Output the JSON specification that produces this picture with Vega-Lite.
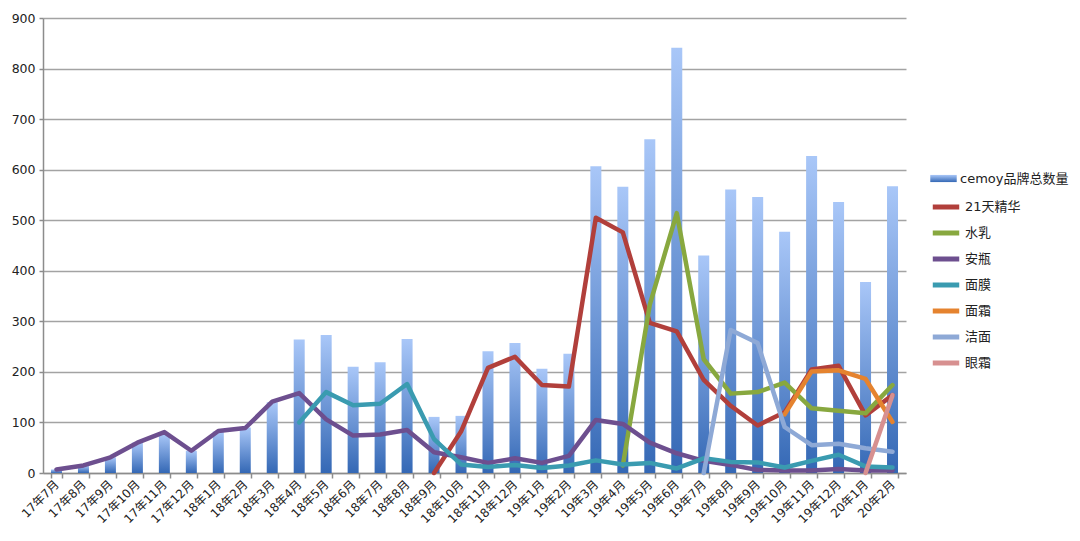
{
  "$schema": "https://vega.github.io/schema/vega-lite/v6.json",
  "width": 863,
  "height": 455,
  "autosize": {"type": "none"},
  "padding": {"left": 43, "top": 18, "right": 174, "bottom": 68},
  "background": "white",
  "config": {
    "view": {"stroke": null},
    "font": "DejaVu Sans",
    "axis": {
      "labelFont": "DejaVu Sans, Noto Sans CJK SC",
      "labelColor": "#222222",
      "domainColor": "#8c8c8c",
      "domainWidth": 1.5,
      "tickColor": "#8c8c8c",
      "tickWidth": 1.5,
      "gridColor": "#a3a3a3",
      "gridWidth": 1.5
    },
    "legend": {
      "labelFont": "DejaVu Sans, Noto Sans CJK SC",
      "labelFontSize": 13,
      "labelColor": "#222222"
    }
  },
  "datasets": {
    "bars": [
      {"month": "17年7月", "total": 7}, {"month": "17年8月", "total": 15}, {"month": "17年9月", "total": 31},
      {"month": "17年10月", "total": 60}, {"month": "17年11月", "total": 77}, {"month": "17年12月", "total": 44},
      {"month": "18年1月", "total": 82}, {"month": "18年2月", "total": 90}, {"month": "18年3月", "total": 140},
      {"month": "18年4月", "total": 264}, {"month": "18年5月", "total": 273}, {"month": "18年6月", "total": 210},
      {"month": "18年7月", "total": 219}, {"month": "18年8月", "total": 265}, {"month": "18年9月", "total": 111},
      {"month": "18年10月", "total": 113}, {"month": "18年11月", "total": 241}, {"month": "18年12月", "total": 257},
      {"month": "19年1月", "total": 206}, {"month": "19年2月", "total": 236}, {"month": "19年3月", "total": 607},
      {"month": "19年4月", "total": 566}, {"month": "19年5月", "total": 660}, {"month": "19年6月", "total": 841},
      {"month": "19年7月", "total": 430}, {"month": "19年8月", "total": 561}, {"month": "19年9月", "total": 546},
      {"month": "19年10月", "total": 477}, {"month": "19年11月", "total": 627}, {"month": "19年12月", "total": 536},
      {"month": "20年1月", "total": 378}, {"month": "20年2月", "total": 567}
    ],
    "lines": [
      {"series": "21天精华", "month": "18年9月", "value": 0},
      {"series": "21天精华", "month": "18年10月", "value": 82},
      {"series": "21天精华", "month": "18年11月", "value": 208},
      {"series": "21天精华", "month": "18年12月", "value": 230},
      {"series": "21天精华", "month": "19年1月", "value": 174},
      {"series": "21天精华", "month": "19年2月", "value": 171},
      {"series": "21天精华", "month": "19年3月", "value": 505},
      {"series": "21天精华", "month": "19年4月", "value": 476},
      {"series": "21天精华", "month": "19年5月", "value": 297},
      {"series": "21天精华", "month": "19年6月", "value": 280},
      {"series": "21天精华", "month": "19年7月", "value": 184},
      {"series": "21天精华", "month": "19年8月", "value": 133},
      {"series": "21天精华", "month": "19年9月", "value": 94},
      {"series": "21天精华", "month": "19年10月", "value": 120},
      {"series": "21天精华", "month": "19年11月", "value": 205},
      {"series": "21天精华", "month": "19年12月", "value": 212},
      {"series": "21天精华", "month": "20年1月", "value": 114},
      {"series": "21天精华", "month": "20年2月", "value": 154},
      {"series": "水乳", "month": "19年4月", "value": 15},
      {"series": "水乳", "month": "19年5月", "value": 333},
      {"series": "水乳", "month": "19年6月", "value": 514},
      {"series": "水乳", "month": "19年7月", "value": 225},
      {"series": "水乳", "month": "19年8月", "value": 157},
      {"series": "水乳", "month": "19年9月", "value": 160},
      {"series": "水乳", "month": "19年10月", "value": 179},
      {"series": "水乳", "month": "19年11月", "value": 128},
      {"series": "水乳", "month": "19年12月", "value": 123},
      {"series": "水乳", "month": "20年1月", "value": 118},
      {"series": "水乳", "month": "20年2月", "value": 174},
      {"series": "安瓶", "month": "17年7月", "value": 7},
      {"series": "安瓶", "month": "17年8月", "value": 15},
      {"series": "安瓶", "month": "17年9月", "value": 31},
      {"series": "安瓶", "month": "17年10月", "value": 60},
      {"series": "安瓶", "month": "17年11月", "value": 81},
      {"series": "安瓶", "month": "17年12月", "value": 44},
      {"series": "安瓶", "month": "18年1月", "value": 83},
      {"series": "安瓶", "month": "18年2月", "value": 89},
      {"series": "安瓶", "month": "18年3月", "value": 141},
      {"series": "安瓶", "month": "18年4月", "value": 158},
      {"series": "安瓶", "month": "18年5月", "value": 106},
      {"series": "安瓶", "month": "18年6月", "value": 74},
      {"series": "安瓶", "month": "18年7月", "value": 76},
      {"series": "安瓶", "month": "18年8月", "value": 85},
      {"series": "安瓶", "month": "18年9月", "value": 41},
      {"series": "安瓶", "month": "18年10月", "value": 31},
      {"series": "安瓶", "month": "18年11月", "value": 20},
      {"series": "安瓶", "month": "18年12月", "value": 29},
      {"series": "安瓶", "month": "19年1月", "value": 20},
      {"series": "安瓶", "month": "19年2月", "value": 34},
      {"series": "安瓶", "month": "19年3月", "value": 105},
      {"series": "安瓶", "month": "19年4月", "value": 97},
      {"series": "安瓶", "month": "19年5月", "value": 60},
      {"series": "安瓶", "month": "19年6月", "value": 39},
      {"series": "安瓶", "month": "19年7月", "value": 24},
      {"series": "安瓶", "month": "19年8月", "value": 16},
      {"series": "安瓶", "month": "19年9月", "value": 6},
      {"series": "安瓶", "month": "19年10月", "value": 5},
      {"series": "安瓶", "month": "19年11月", "value": 5},
      {"series": "安瓶", "month": "19年12月", "value": 8},
      {"series": "安瓶", "month": "20年1月", "value": 5},
      {"series": "安瓶", "month": "20年2月", "value": 5},
      {"series": "面膜", "month": "18年4月", "value": 100},
      {"series": "面膜", "month": "18年5月", "value": 160},
      {"series": "面膜", "month": "18年6月", "value": 134},
      {"series": "面膜", "month": "18年7月", "value": 137},
      {"series": "面膜", "month": "18年8月", "value": 176},
      {"series": "面膜", "month": "18年9月", "value": 67},
      {"series": "面膜", "month": "18年10月", "value": 17},
      {"series": "面膜", "month": "18年11月", "value": 12},
      {"series": "面膜", "month": "18年12月", "value": 16},
      {"series": "面膜", "month": "19年1月", "value": 10},
      {"series": "面膜", "month": "19年2月", "value": 15},
      {"series": "面膜", "month": "19年3月", "value": 25},
      {"series": "面膜", "month": "19年4月", "value": 17},
      {"series": "面膜", "month": "19年5月", "value": 20},
      {"series": "面膜", "month": "19年6月", "value": 9},
      {"series": "面膜", "month": "19年7月", "value": 29},
      {"series": "面膜", "month": "19年8月", "value": 22},
      {"series": "面膜", "month": "19年9月", "value": 21},
      {"series": "面膜", "month": "19年10月", "value": 11},
      {"series": "面膜", "month": "19年11月", "value": 24},
      {"series": "面膜", "month": "19年12月", "value": 36},
      {"series": "面膜", "month": "20年1月", "value": 13},
      {"series": "面膜", "month": "20年2月", "value": 11},
      {"series": "面霜", "month": "19年10月", "value": 116},
      {"series": "面霜", "month": "19年11月", "value": 201},
      {"series": "面霜", "month": "19年12月", "value": 203},
      {"series": "面霜", "month": "20年1月", "value": 186},
      {"series": "面霜", "month": "20年2月", "value": 101},
      {"series": "洁面", "month": "19年7月", "value": 0},
      {"series": "洁面", "month": "19年8月", "value": 283},
      {"series": "洁面", "month": "19年9月", "value": 257},
      {"series": "洁面", "month": "19年10月", "value": 91},
      {"series": "洁面", "month": "19年11月", "value": 55},
      {"series": "洁面", "month": "19年12月", "value": 58},
      {"series": "洁面", "month": "20年1月", "value": 49},
      {"series": "洁面", "month": "20年2月", "value": 42},
      {"series": "眼霜", "month": "20年1月", "value": 0},
      {"series": "眼霜", "month": "20年2月", "value": 154}
    ]
  },
  "encoding": {
    "x": {
      "field": "month",
      "type": "nominal",
      "title": null,
      "scale": {
        "domain": ["17年7月", "17年8月", "17年9月", "17年10月", "17年11月", "17年12月", "18年1月", "18年2月", "18年3月", "18年4月", "18年5月", "18年6月", "18年7月", "18年8月", "18年9月", "18年10月", "18年11月", "18年12月", "19年1月", "19年2月", "19年3月", "19年4月", "19年5月", "19年6月", "19年7月", "19年8月", "19年9月", "19年10月", "19年11月", "19年12月", "20年1月", "20年2月"],
        "paddingInner": 0.59,
        "paddingOuter": 0.295
      },
      "axis": {
        "labelAngle": -45,
        "labelAlign": "right",
        "labelBaseline": "middle",
        "labelFontSize": 12,
        "labelPadding": 4,
        "tickBand": "extent",
        "tickSize": 5,
        "grid": false
      }
    }
  },
  "layer": [
    {
      "data": {"name": "bars"},
      "mark": {
        "type": "bar",
        "width": 11,
        "color": {"gradient": "linear", "x1": 0, "y1": 0, "x2": 0, "y2": 1, "stops": [{"offset": 0, "color": "#a9c7f8"}, {"offset": 1, "color": "#3468b5"}]}
      },
      "encoding": {
        "y": {
          "field": "total",
          "type": "quantitative",
          "title": null,
          "scale": {"domain": [0, 900]},
          "axis": {"values": [0, 100, 200, 300, 400, 500, 600, 700, 800, 900], "labelFontSize": 12.5, "tickSize": 4, "labelPadding": 4, "grid": true}
        },
        "opacity": {
          "datum": "cemoy品牌总数量",
          "type": "nominal",
          "scale": {"domain": ["cemoy品牌总数量"], "range": [1]},
          "legend": {
            "title": null,
            "orient": "none",
            "legendX": 887,
            "legendY": 147,
            "symbolType": "M-1,-0.27H1V0.27H-1Z",
            "symbolSize": 700,
            "symbolStrokeWidth": 0,
            "labelOffset": 3,
            "encode": {
              "symbols": {
                "update": {
                  "fill": {"value": {"gradient": "linear", "x1": 0, "y1": 0, "x2": 0, "y2": 1, "stops": [{"offset": 0, "color": "#a9c7f8"}, {"offset": 1, "color": "#3468b5"}]}},
                  "opacity": {"value": 1}
                }
              }
            }
          }
        }
      }
    },
    {
      "data": {"name": "lines"},
      "mark": {"type": "line", "strokeWidth": 4.5, "strokeCap": "round", "strokeJoin": "round"},
      "encoding": {
        "y": {"field": "value", "type": "quantitative"},
        "stroke": {
          "field": "series",
          "type": "nominal",
          "scale": {
            "domain": ["21天精华", "水乳", "安瓶", "面膜", "面霜", "洁面", "眼霜"],
            "range": ["#b13f3b", "#88a83f", "#6d4f8f", "#3a9bb0", "#e5832f", "#8ea9d6", "#d79090"]
          },
          "legend": {
            "title": null,
            "orient": "none",
            "legendX": 887,
            "legendY": 173,
            "symbolType": "stroke",
            "symbolSize": 700,
            "symbolStrokeWidth": 5,
            "labelOffset": 3,
            "rowPadding": 0
          }
        }
      }
    }
  ]
}
